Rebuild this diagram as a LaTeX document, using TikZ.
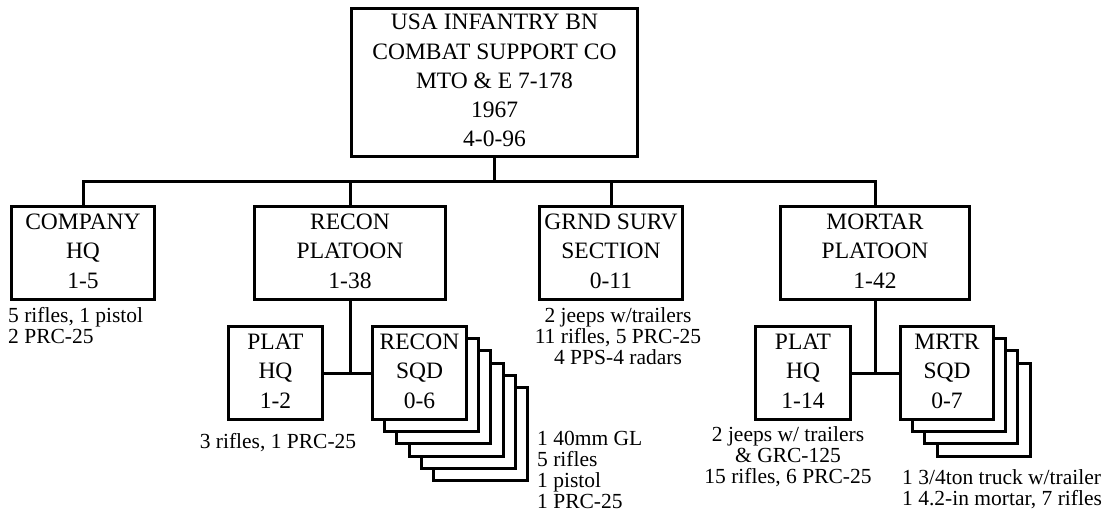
\documentclass[tikz,border=0pt]{standalone}
\usepackage{fontspec}
\setmainfont{Liberation Serif}
\usetikzlibrary{calc}
\newcommand{\boxlines}[1]{\begin{tabular}{@{}c@{}}#1\end{tabular}}
\newcommand{\leftlines}[1]{\begin{tabular}[t]{@{}l@{}}#1\end{tabular}}
\newcommand{\centerlines}[1]{\begin{tabular}[t]{@{}c@{}}#1\end{tabular}}
\begin{document}
\begin{tikzpicture}[x=1pt,y=-1pt,
  unit/.style={draw=black, line width=3pt, fill=white, inner sep=0pt,
    font=\fontsize{23.5}{29.3}\selectfont, minimum height=93pt},
  note/.style={inner sep=0pt, font=\fontsize{21.5}{21}\selectfont},
  link/.style={line width=3pt},
  stackbox/.style={draw=black, line width=3pt, fill=white}]
\useasboundingbox (0,0) rectangle (1105,513);

% top
\node[unit, minimum width=286pt, minimum height=148pt] (top) at (494.5,82.5)
  {\boxlines{USA INFANTRY BN\\COMBAT SUPPORT CO\\MTO \& E 7-178\\1967\\4-0-96}};

% second row
\node[unit, minimum width=143pt] (chq) at (83,253) {\boxlines{COMPANY\\HQ\\1-5}};
\node[unit, minimum width=191pt] (rp) at (350,253) {\boxlines{RECON\\PLATOON\\1-38}};
\node[unit, minimum width=143pt] (gs) at (611,253) {\boxlines{GRND SURV\\SECTION\\0-11}};
\node[unit, minimum width=189pt] (mp) at (875,253) {\boxlines{MORTAR\\PLATOON\\1-42}};

\coordinate (bar) at (494.5,182);
\draw[link] (top.south) -- (bar);
\draw[link] (chq.north) |- (bar) -| (mp.north);
\draw[link] (rp.north) -- (rp.north |- bar);
\draw[link] (gs.north) -- (gs.north |- bar);

% recon platoon children
\node[unit, minimum width=94pt] (rphq) at (275.5,373) {\boxlines{PLAT\\HQ\\1-2}};
\coordinate (rsq) at (419.5,373);
\foreach \k in {5,4,3,2,1}
  \draw[stackbox] ($(rsq)+(12.2*\k-47,12.2*\k-46.5)$) rectangle ++(94,93);
\node[unit, minimum width=94pt] (rsqd) at (rsq) {\boxlines{RECON\\SQD\\0-6}};
\draw[link] (rphq.east) -- (rsqd.west);
\draw[link] (rp.south) -- (rp.south |- rphq.east);

% mortar platoon children
\node[unit, minimum width=95pt] (mphq) at (803,373) {\boxlines{PLAT\\HQ\\1-14}};
\coordinate (msq) at (947,373);
\foreach \k in {3,2,1}
  \draw[stackbox] ($(msq)+(12.2*\k-46.5,12.2*\k-46.5)$) rectangle ++(93,93);
\node[unit, minimum width=93pt] (msqd) at (msq) {\boxlines{MRTR\\SQD\\0-7}};
\draw[link] (mphq.east) -- (msqd.west);
\draw[link] (mp.south) -- (mp.south |- mphq.east);

% notes
\node[note, anchor=base west] (n1) at (8,322) {\leftlines{5 rifles, 1 pistol\\2 PRC-25}};
\node[note, anchor=base] (n2) at (618,322) {\centerlines{2 jeeps w/trailers\\11 rifles, 5 PRC-25\\4 PPS-4 radars}};
\node[note, anchor=base] (n3) at (278,448) {3 rifles, 1 PRC-25};
\node[note, anchor=base west] (n4) at (537,445) {\leftlines{1 40mm GL\\5 rifles\\1 pistol\\1 PRC-25}};
\node[note, anchor=base] (n5) at (788,441) {\centerlines{2 jeeps w/ trailers\\\& GRC-125\\15 rifles, 6 PRC-25}};
\node[note, anchor=base west] (n6) at (902,484) {\leftlines{1 3/4ton truck w/trailer\\1 4.2-in mortar, 7 rifles}};
\end{tikzpicture}
\end{document}
